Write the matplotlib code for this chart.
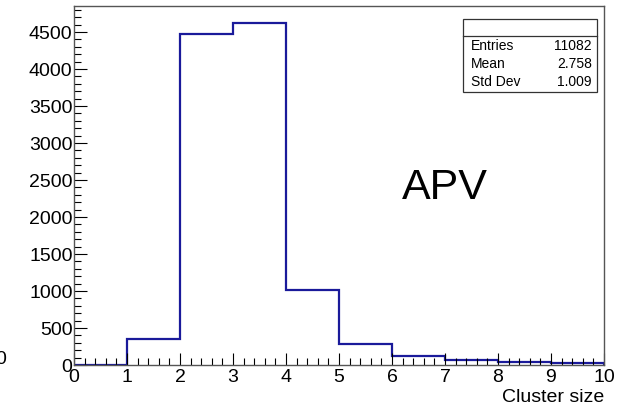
import matplotlib.pyplot as plt
import numpy as np

plt.rcParams['font.family'] = ['Liberation Sans', 'DejaVu Sans']

# cluster size histogram (APV)
bin_edges = [0, 1, 2, 3, 4, 5, 6, 7, 8, 9, 10]
counts = [3, 352, 4473, 4622, 1017, 282, 122, 63, 36, 23]
stats_names = ['Entries', 'Mean', 'Std Dev']
stats_vals = ['11082', '2.758', '1.009']

fig = plt.figure(figsize=(6.33, 4.10), dpi=100)
ax = fig.add_axes([74 / 633, 44 / 410, 530 / 633, 359 / 410])

ax.stairs(counts, bin_edges, color='#1a1a9a', linewidth=1.6)

ax.set_xlim(0, 10)
ax.set_ylim(0, 4850)
ax.set_xticks(range(0, 11))
ax.set_xticks(np.arange(0, 10.01, 0.2), minor=True)
ax.set_yticks(range(0, 4501, 500))
ax.set_yticks(range(0, 4801, 100), minor=True)
ax.tick_params(axis='both', which='major', direction='in', length=9, labelsize=14, width=0.8, pad=1)
ax.tick_params(axis='both', which='minor', direction='in', length=5, width=0.8)
ax.tick_params(axis='x', pad=2)
for s in ax.spines.values():
    s.set_color('#555555')
    s.set_linewidth(1.0)

ax.set_xlabel('Cluster size', fontsize=14, loc='right', labelpad=2)

# APV label
ax.text(7.0, 2400, 'APV', fontsize=31, ha='center', va='center')

# stats box
bx0, by0, bw, bh = 463 / 633, (410 - 93) / 410, 134 / 633, 73 / 410
fig.patches.append(plt.Rectangle((bx0, by0), bw, bh, transform=fig.transFigure,
                                 fill=False, edgecolor='#333333', linewidth=0.9))
fig.add_artist(plt.Line2D([bx0, bx0 + bw], [by0 + bh * 0.77, by0 + bh * 0.77],
                          transform=fig.transFigure, color='#333333', linewidth=0.9))
for i, (n, v) in enumerate(zip(stats_names, stats_vals)):
    yy = by0 + bh * (0.64 - 0.245 * i)
    fig.text(bx0 + 0.012, yy, n, fontsize=10, va='center', ha='left')
    fig.text(bx0 + bw - 0.008, yy, v, fontsize=10, va='center', ha='right')

# stray zero at left edge
fig.text(-0.008, (410 - 360) / 410, '0', fontsize=14, va='center', ha='left')

fig.savefig('out.png', dpi=100)
